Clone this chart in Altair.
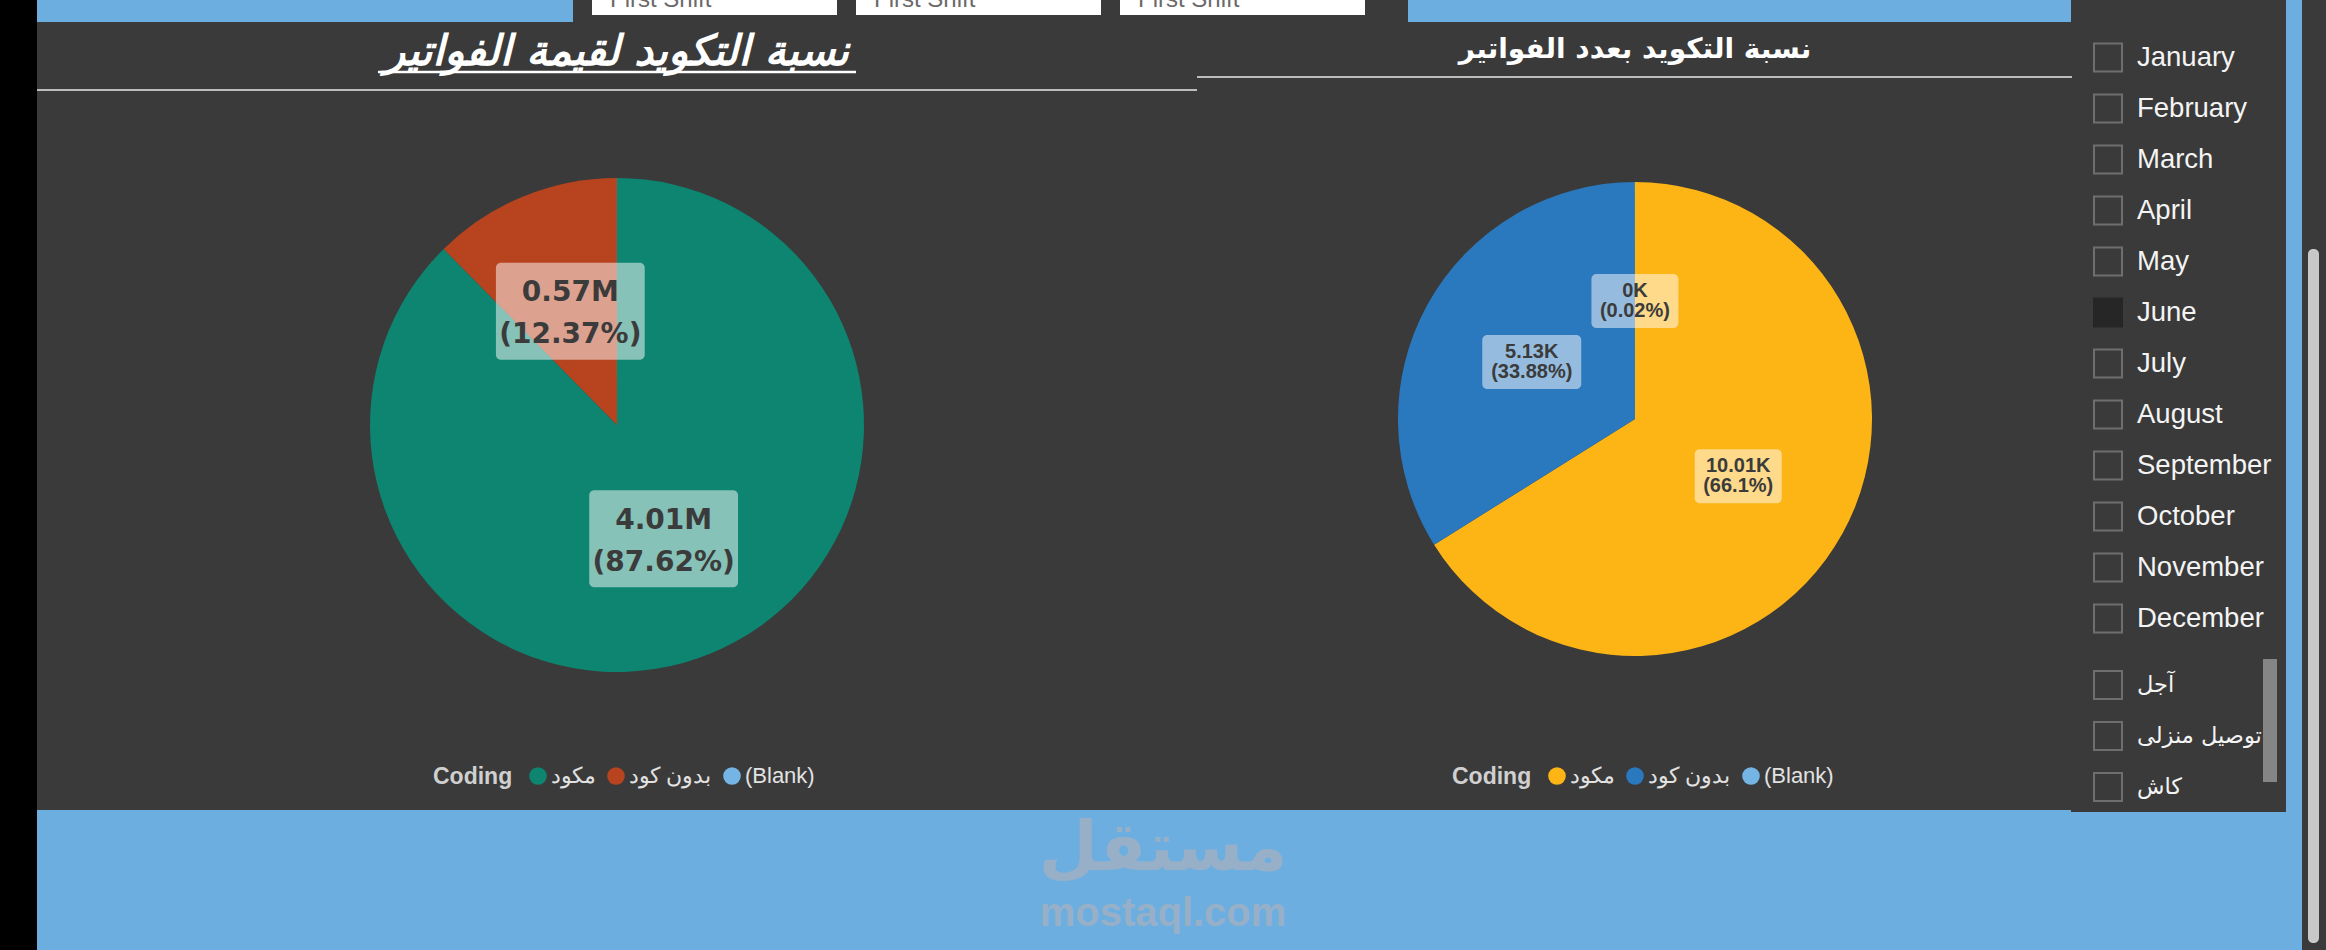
import altair as alt
import pandas as pd

# ---------------- data ----------------
categories = ["مكود", "بدون كود", "(Blank)"]
cat_order = [0, 1, 2]

# invoice value (millions) by coding status
value_totals_m = [4.01, 0.5661, 0.00046]
value_main_labels = ["4.01M", "0.57M", ""]
value_pct_labels = ["(87.62%)", "(12.37%)", ""]

# invoice count by coding status
count_totals = [10010, 5130, 3]
count_main_labels = ["10.01K", "5.13K", "0K"]
count_pct_labels = ["(66.1%)", "(33.88%)", "(0.02%)"]

months = ["January", "February", "March", "April", "May", "June", "July",
          "August", "September", "October", "November", "December"]
selected_months = ["June"]
payment_types = ["آجل", "توصيل منزلى", "كاش"]
shift_labels = ["First Shift", "First Shift", "First Shift"]

title_by_value = "نسبة التكويد لقيمة الفواتير"
title_by_count = "نسبة التكويد بعدد الفواتير"
legend_title = "Coding"
watermark_ar = "مستقل"
watermark_en = "mostaql.com"

# ---------------- styles ----------------
BLUE = "#6daee0"
DARK = "#3a3a3a"
value_colors = ["#0d8570", "#b8441f", "#74b5e5"]
count_colors = ["#fdb515", "#2a78be", "#74b5e5"]

ONE = alt.Data(values=[{"k": 1}])


def rect(x1, y1, x2, y2, color, **kw):
    return alt.Chart(ONE).mark_rect(color=color, **kw).encode(
        x=alt.value(x1), x2=alt.value(x2), y=alt.value(y1), y2=alt.value(y2))


def hline(x1, x2, y, color, width):
    return alt.Chart(ONE).mark_rule(color=color, strokeWidth=width).encode(
        x=alt.value(x1), x2=alt.value(x2), y=alt.value(y))


def label(text, x, y, **kw):
    return alt.Chart(ONE).mark_text(text=text, **kw).encode(x=alt.value(x), y=alt.value(y))


def pie(values, main_labels, pct_labels, colors, cx, cy, R, r_lab,
        font, fsize, fweight, dy1, dy2, box_char_w, box_pad, box_h, leg_x, leg_y):
    df = pd.DataFrame({"cat": categories, "val": values, "main": main_labels,
                       "pct": pct_labels, "ord": cat_order})
    base = alt.Chart(df)
    theta = alt.Theta("val:Q", stack=True)
    order = alt.Order("ord:Q", sort="ascending")
    arcs = base.mark_arc(radius=R).encode(
        theta=theta, order=order,
        color=alt.Color("cat:N", scale=alt.Scale(domain=categories, range=colors),
                        legend=alt.Legend(title=None, orient="none", legendX=leg_x, legendY=leg_y,
                                          direction="horizontal", symbolType="circle",
                                          symbolSize=310, symbolStrokeWidth=0,
                                          labelFont="Liberation Sans", labelFontSize=22,
                                          labelColor="#e2e2e2", labelOffset=2,
                                          columnPadding=9, padding=0, labelLimit=300)),
        x=alt.value(cx), y=alt.value(cy))
    boxes = base.transform_joinaggregate(total="sum(val)").transform_window(
        cum="sum(val)", sort=[alt.SortField("ord")], frame=[None, 0]
    ).transform_filter("datum.main != ''").transform_calculate(
        mid="(datum.cum - datum.val / 2) / datum.total * 2 * PI",
        bw=f"{box_char_w} * length(datum.pct) + {box_pad}",
    ).transform_calculate(
        bx=f"{cx} + {r_lab} * sin(datum.mid)",
        by=f"{cy} - {r_lab} * cos(datum.mid)",
    ).transform_calculate(
        x1="datum.bx - datum.bw / 2", x2="datum.bx + datum.bw / 2",
        y1=f"datum.by - {box_h / 2}", y2=f"datum.by + {box_h / 2}",
    ).mark_rect(color="white", opacity=0.5, cornerRadius=5).encode(
        x=alt.X("x1:Q", scale=None, axis=None), x2="x2:Q",
        y=alt.Y("y1:Q", scale=None, axis=None), y2="y2:Q")

    def txt(field, dy):
        return base.transform_filter(f"datum.{field} != ''").mark_text(
            font=font, fontSize=fsize, fontWeight=fweight, color="#3b3b3b", dy=dy).encode(
            theta=theta, order=order, detail="cat:N", text=f"{field}:N",
            radius=alt.value(r_lab), x=alt.value(cx), y=alt.value(cy))

    return alt.layer(arcs, boxes, txt("main", dy1), txt("pct", dy2))


# ---------------- background / layout ----------------
layers = [
    rect(0, 0, 37, 950, "#000000"),
    rect(37, 22, 2071, 810, DARK),
    rect(573, 0, 1408, 22, DARK),
    rect(2071, 0, 2286, 812, DARK),
    rect(2302, 0, 2326, 950, DARK),
    rect(2308, 249, 2319, 943, "#c8c8c8", cornerRadius=5),
]
for i, (sx, s) in enumerate(zip([592, 856, 1120], shift_labels)):
    layers.append(rect(sx, 0, sx + 245, 15, "#ffffff"))
    layers.append(label(s, sx + 18, 7, font="Liberation Sans", fontSize=24, color="#6a6a6a",
                        align="left", baseline="alphabetic"))

# titles and separators
layers += [
    hline(37, 1197, 90, "#bdbdbd", 2),
    hline(1197, 2072, 77, "#bdbdbd", 2),
    label(title_by_value, 617, 52, font="DejaVu Sans", fontSize=42, fontWeight="bold",
          fontStyle="italic", color="#ffffff", align="center", baseline="middle"),
    hline(378, 856, 72, "#ffffff", 2.5),
    label(title_by_count, 1635, 50, font="DejaVu Sans", fontSize=28, fontWeight="bold",
          color="#ffffff", align="center", baseline="middle"),
]

# pies
layers.append(pie(value_totals_m, value_main_labels, value_pct_labels, value_colors,
                  617, 425, 247, 123, "DejaVu Sans", 28, "bold", -18, 24, 18.6, 0, 97, 527, 765))
layers.append(pie(count_totals, count_main_labels, count_pct_labels, count_colors,
                  1635, 419, 237, 118, "Liberation Sans", 20, "bold", -10, 10, 12, 3, 54, 1546, 765))

# legend titles
layers += [
    label(legend_title, 433, 777, font="Liberation Sans", fontSize=23, fontWeight="bold",
          color="#d0d0d0", align="left", baseline="middle"),
    label(legend_title, 1452, 777, font="Liberation Sans", fontSize=23, fontWeight="bold",
          color="#d0d0d0", align="left", baseline="middle"),
]

# slicer
sl = pd.DataFrame({
    "item": months + payment_types,
    "grp": [0] * len(months) + [1] * len(payment_types),
    "i": list(range(len(months))) + list(range(len(payment_types))),
    "sel": [m in selected_months for m in months] + [False] * len(payment_types),
})
sl_base = alt.Chart(sl).transform_calculate(
    yc="datum.grp == 0 ? 57.5 + 51 * datum.i : 685 + 51 * datum.i"
).transform_calculate(yt="datum.yc - 14", yb="datum.yc + 14")
boxes = sl_base.mark_rect(strokeWidth=2).encode(
    x=alt.value(2094), x2=alt.value(2122),
    y=alt.Y("yt:Q", scale=None, axis=None), y2="yb:Q",
    fill=alt.condition("datum.sel", alt.value("#262626"), alt.value("transparent")),
    stroke=alt.condition("datum.sel", alt.value("#262626"), alt.value("#6e6e6e")))
month_text = sl_base.transform_filter("datum.grp == 0").mark_text(
    align="left", baseline="middle", font="Liberation Sans", fontSize=27.5, color="#f4f4f4"
).encode(x=alt.value(2137), y=alt.Y("yc:Q", scale=None, axis=None), text="item:N")
pay_text = sl_base.transform_filter("datum.grp == 1").mark_text(
    align="left", baseline="middle", font="DejaVu Sans", fontSize=22.5, color="#f4f4f4"
).encode(x=alt.value(2137), y=alt.Y("yc:Q", scale=None, axis=None), text="item:N")
layers += [boxes, month_text, pay_text,
           rect(2263, 640, 2286, 812, DARK),
           rect(2263, 659, 2277, 782, "#858585"),
           rect(2286, 0, 2302, 950, BLUE)]

# watermark
layers += [
    label(watermark_ar, 1163, 850, font="DejaVu Sans", fontSize=68, fontWeight="bold",
          color="#97b0c8", align="center", baseline="middle"),
    label(watermark_en, 1163, 914, font="Liberation Sans", fontSize=40, fontWeight="bold",
          color="#97b0c8", align="center", baseline="middle"),
]

chart = alt.layer(*layers).resolve_scale(
    theta="independent", color="independent"
).properties(
    width=2326, height=950, background=BLUE, padding=0,
    autosize=alt.AutoSizeParams(type="none"),
).configure_view(stroke=None)

chart.save("out.html", embed_options={"renderer": "svg", "actions": False})
